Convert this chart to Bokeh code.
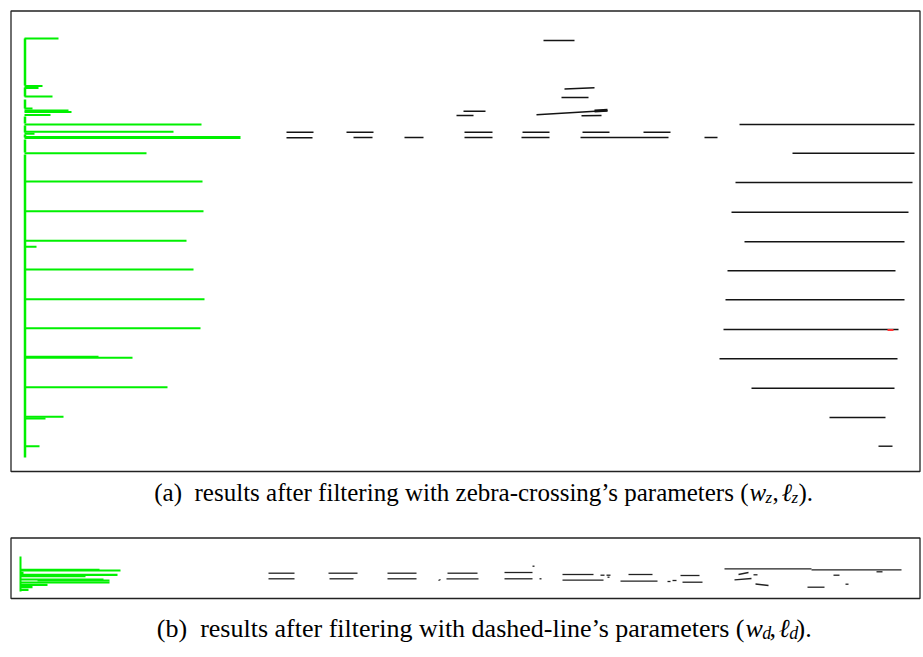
from bokeh.plotting import figure
from bokeh.models import ColumnDataSource, Range1d
from bokeh.core.properties import value
from bokeh.embed import file_html
from bokeh.resources import INLINE

# ---------------- data (image-pixel units) ----------------
# panel (a): green segments (zebra-crossing filter) -> x start, x end, y
ga_x0 = [24, 24, 24, 24, 24, 24, 24, 24, 24, 24, 24, 24, 24, 24, 24, 24, 24, 24, 24, 24, 24, 24, 24, 24, 24, 24]
ga_x1 = [58, 42, 38, 52, 32, 68, 71, 50, 201, 173, 34, 240, 146, 202, 203, 186, 36, 193, 204, 200, 132, 98, 167, 63, 45, 39]
ga_y = [38, 85.5, 87.5, 96, 108, 110, 111.5, 114.5, 124, 131.3, 133.3, 137, 152.7, 181, 210.7, 240.3, 246.3, 269, 298.7, 327.7, 357.3, 356.3, 386.7, 416.3, 418, 445.7]
ga_w = [2, 2, 2, 2, 2, 2, 2, 2, 2, 2, 2, 3, 2, 2, 2, 2, 2, 2, 2, 2, 2, 2, 2, 2, 2, 2]
# panel (a): green vertical pieces -> y start, y end (at x = 24.5)
gv_a_y0 = [38, 87, 99, 116, 125, 134, 139, 154]
gv_a_y1 = [85, 96, 108, 123, 132, 137, 152, 457]

# panel (a): black segments -> x0, y0, x1, y1
ba_x0 = [543, 564, 561, 463, 456, 536, 581, 286, 286, 346, 353, 404, 464, 464, 522, 521, 582, 580, 643, 704,
         739, 792, 735, 731, 744, 727, 725, 723, 719, 751, 829, 878]
ba_y0 = [40, 88.5, 97, 110.7, 115, 114.3, 115.3, 131.7, 137.3, 131.7, 137, 137, 131.7, 137, 131.7, 137, 131.7, 137, 131.7, 137,
         124, 152.7, 182, 211.7, 241.3, 270.3, 299.3, 329, 358.3, 387.7, 417, 445.7]
ba_x1 = [574, 594, 588, 485, 473, 607, 601, 313, 312, 373, 372, 423, 492, 492, 549, 549, 609, 668, 670, 717,
         914, 914, 912, 908, 904, 895, 904, 898, 897, 894, 885, 892]
ba_y1 = [40, 87.3, 97, 110.7, 115, 110, 115, 131.7, 137.3, 131.7, 137, 137, 131.7, 137, 131.7, 137, 131.7, 137, 131.7, 137,
         124, 152.7, 182, 211.7, 241.3, 270.3, 299.3, 329, 358.3, 387.7, 417, 445.7]
# thick blob and red mark in panel (a)
ba_blob = [594, 110.4, 607, 109.8]
ba_red = [887, 329.5, 893, 329.5]

# panel (b): green segments -> x start, x end, y
gb_x0 = [20, 20, 20, 20, 20, 20, 37, 20, 20, 20, 20]
gb_x1 = [120, 99, 23, 117, 85, 103, 109, 109, 47, 32, 28]
gb_y = [570, 569.3, 572.3, 574.3, 575.7, 579, 580, 582, 584.3, 586.7, 589.3]
gv_b_y0 = [556]
gv_b_y1 = [591]

# panel (b): black segments -> x0, y0, x1, y1
bb_x0 = [268, 268, 328, 329, 387, 387, 447, 446, 438, 504, 504, 532, 539, 562, 562, 607, 600, 606, 628, 620,
         680, 682, 667, 672, 724, 811, 738, 734, 753, 755, 833, 807, 845, 876]
bb_y0 = [572.7, 578.3, 572.7, 578.3, 572.7, 578.3, 572.7, 578.3, 580, 572, 578.3, 565.7, 578.3, 574, 579.7, 576.7, 574.7, 574.7, 574, 580.7,
         575, 581.7, 581, 580, 568.3, 569.3, 574, 579.3, 574.3, 583.5, 574.7, 586.7, 583.7, 571.3]
bb_x1 = [294, 294, 357, 353, 416, 416, 477, 478, 440, 532, 532, 534, 541, 593, 603, 609, 604, 610, 652, 657,
         699, 702, 670, 676, 811, 901, 748, 751, 757, 768, 839, 824, 848, 882]
bb_y1 = [572.7, 578.3, 572.7, 578.3, 572.7, 578.3, 572.7, 578.3, 579, 572, 578.3, 565.7, 578.3, 574, 579.7, 576.7, 574.7, 574.7, 574, 580.7,
         575, 581.7, 581, 580, 568.3, 569.3, 572, 578, 574.3, 585, 574.7, 586.7, 583.7, 571.3]

caption_a = "(a)\u00a0 results after filtering with zebra-crossing\u2019s parameters ("
caption_b = "(b)\u00a0 results after filtering with dashed-line\u2019s parameters ("
sub_a = "z"
sub_b = "d"

# ---------------- figure ----------------
W, H = 923, 657
p = figure(width=W, height=H, output_backend="svg", toolbar_location=None,
           x_range=Range1d(0, W), y_range=Range1d(H, 0),
           x_axis_type=None, y_axis_type=None, min_border=0,
           outline_line_color=None, background_fill_color="white",
           border_fill_color="white")
p.grid.visible = False

GREEN = "#00f000"
BLACK = "#141414"

# panel frames
p.quad(left=[10.5, 10.5], right=[919.5, 919.5], top=[10.5, 537.5], bottom=[471, 598],
       fill_color=None, line_color="#222222", line_width=1.3)

# panel (a)
p.segment(x0=[24.5] * len(gv_a_y0), y0=gv_a_y0, x1=[24.5] * len(gv_a_y0), y1=gv_a_y1,
          line_color=GREEN, line_width=2.5)
src_ga = ColumnDataSource(dict(x0=ga_x0, x1=ga_x1, y=ga_y, w=ga_w))
p.segment(x0="x0", y0="y", x1="x1", y1="y", source=src_ga, line_color=GREEN, line_width="w")
src_ba = ColumnDataSource(dict(x0=ba_x0, y0=ba_y0, x1=ba_x1, y1=ba_y1))
p.segment(x0="x0", y0="y0", x1="x1", y1="y1", source=src_ba, line_color=BLACK, line_width=1.4)
p.segment(x0=[ba_blob[0]], y0=[ba_blob[1]], x1=[ba_blob[2]], y1=[ba_blob[3]], line_color=BLACK, line_width=3)
p.segment(x0=[ba_red[0]], y0=[ba_red[1]], x1=[ba_red[2]], y1=[ba_red[3]], line_color="#ff3030", line_width=2)

# panel (b)
p.segment(x0=[20] * len(gv_b_y0), y0=gv_b_y0, x1=[20] * len(gv_b_y0), y1=gv_b_y1,
          line_color=GREEN, line_width=2)
src_gb = ColumnDataSource(dict(x0=gb_x0, x1=gb_x1, y=gb_y))
p.segment(x0="x0", y0="y", x1="x1", y1="y", source=src_gb, line_color=GREEN, line_width=2.2)
src_bb = ColumnDataSource(dict(x0=bb_x0, y0=bb_y0, x1=bb_x1, y1=bb_y1))
p.segment(x0="x0", y0="y0", x1="x1", y1="y1", source=src_bb, line_color="#222222", line_width=1.3)

# captions
FONT = value("Liberation Serif")


def caption(main, sub, x_main, y, fs):
    k = fs / 25.0
    big = f"{fs}px"
    small = f"{round(fs * 0.68)}px"
    xw = x_main + 1 * k
    xs1 = x_main + 17 * k
    xl = x_main + 33 * k
    xs2 = x_main + 43 * k
    p.text(x=[x_main], y=[y], text=[main], text_font=FONT, text_font_size=big,
           text_align="right", text_baseline="alphabetic", text_color="black")
    p.text(x=[xw, xl], y=[y, y], text=["w", "\u2113"], text_font=FONT, text_font_size=big,
           text_font_style="italic", text_align="left", text_baseline="alphabetic", text_color="black")
    p.text(x=[xs1, xs2], y=[y + 4.5 * k, y + 4.5 * k], text=[sub, sub], text_font=FONT, text_font_size=small,
           text_font_style="italic", text_align="left", text_baseline="alphabetic", text_color="black")
    p.text(x=[xs1 + 7 * k, xs2 + 7 * k], y=[y, y], text=[",", ")."], text_font=FONT, text_font_size=big,
           text_align="left", text_baseline="alphabetic", text_color="black")


caption(caption_a, sub_a, 748, 492, 25)
caption(caption_b, sub_b, 744, 628, 26)

with open("out.html", "w") as f:
    f.write(file_html(p, INLINE))
